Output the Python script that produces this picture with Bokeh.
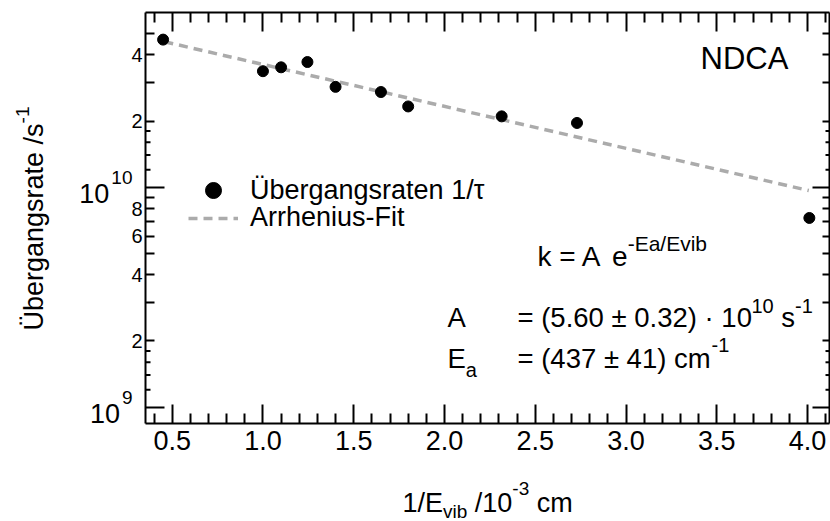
import math
from bokeh.plotting import figure
from bokeh.models import (Range1d, LinearAxis, LogAxis, FixedTicker, Label, LabelSet,
                          ColumnDataSource, Legend, LegendItem, PrintfTickFormatter)
from bokeh.core.properties import value
from bokeh.embed import file_html
from bokeh.resources import INLINE

# ---------------- data ----------------
rate_x = [0.45, 1.00, 1.10, 1.245, 1.40, 1.65, 1.80, 2.315, 2.73, 4.01]
rate_y = [4.69e10, 3.37e10, 3.51e10, 3.71e10, 2.86e10, 2.71e10, 2.33e10, 2.10e10, 1.96e10, 7.25e9]
fit_x = [0.457, 4.007]
fit_y = [4.59e10, 9.66e9]

x_major = [0.5, 1.0, 1.5, 2.0, 2.5, 3.0, 3.5, 4.0]
x_minor = [0.4, 0.6, 0.7, 0.8, 0.9, 1.1, 1.2, 1.3, 1.4, 1.6, 1.7, 1.8, 1.9,
           2.1, 2.2, 2.3, 2.4, 2.6, 2.7, 2.8, 2.9, 3.1, 3.2, 3.3, 3.4,
           3.6, 3.7, 3.8, 3.9, 4.1]
y_decades = [1e9, 1e10]
y_decade_sup = ["9", "10"]
y_minor = [2e9, 3e9, 4e9, 5e9, 6e9, 7e9, 8e9, 9e9, 2e10, 3e10, 4e10, 5e10]
y_sub = [1.2e9, 1.4e9, 1.6e9, 1.8e9, 1.2e10, 1.4e10, 1.6e10, 1.8e10]
y_label_vals = [2e9, 4e9, 6e9, 8e9, 2e10, 4e10]
y_label_text = ["2", "4", "6", "8", "2", "4"]

FONT = "Liberation Sans"
MID = 0.3465   # em-box middle above the alphabetic baseline (Arial metrics)

# plot box (page pixels) and its data window
PW, PH = 830, 521
FL, FT, FR, FB = 145, 12, 829, 423
X0, X1 = 0.353, 4.121
Y0, Y1 = 8.43e8, 6.23e10

# the Bokeh frame covers the whole canvas; axes are pinned to the plot box
sx = (FR - FL) / (X1 - X0)
dec = (FB - FT) / (math.log10(Y1) - math.log10(Y0))
xr = Range1d(X0 - FL / sx, X1 + (PW - FR) / sx)
yr_ = Range1d(10 ** (math.log10(Y0) - (PH - FB) / dec), 10 ** (math.log10(Y1) + FT / dec))

p = figure(width=PW, height=PH, x_range=xr, y_range=yr_, y_axis_type="log",
           output_backend="svg", toolbar_location=None,
           x_axis_location=None, y_axis_location=None,
           min_border=0, min_border_left=0, min_border_right=0, min_border_top=0,
           min_border_bottom=0)
p.outline_line_color = None
p.background_fill_color = "white"
p.border_fill_color = "white"
for g in p.grid:
    g.visible = False


def style_axis(ax, major_in, minor_in, ticks, show_labels):
    ax.axis_line_width = 2
    ax.axis_line_color = "black"
    ax.major_tick_in = major_in
    ax.major_tick_out = 0
    ax.minor_tick_in = minor_in
    ax.minor_tick_out = 0
    ax.major_tick_line_width = 2
    ax.minor_tick_line_width = 2
    ax.major_tick_line_color = "black"
    ax.minor_tick_line_color = "black"
    if show_labels:
        ax.major_label_text_font = FONT
        ax.major_label_text_font_size = "27px"
        ax.major_label_text_color = "black"
        ax.major_label_standoff = 7
    else:
        ax.major_label_overrides = {t: "" for t in ticks}
        ax.major_label_text_font_size = "1px"
        ax.major_label_standoff = 0


xb = LinearAxis(ticker=FixedTicker(ticks=x_major, minor_ticks=x_minor),
                formatter=PrintfTickFormatter(format="%.1f"), fixed_location=Y0, bounds=(X0, X1))
style_axis(xb, 19, 10, x_major, True)
xt = LinearAxis(ticker=FixedTicker(ticks=x_major, minor_ticks=x_minor),
                fixed_location=Y1, bounds=(X0, X1))
style_axis(xt, 19, 10, x_major, False)
yl = LogAxis(ticker=FixedTicker(ticks=y_decades, minor_ticks=y_minor),
             fixed_location=X0, bounds=(Y0, Y1))
style_axis(yl, 19, 9, y_decades, False)
yr = LogAxis(ticker=FixedTicker(ticks=y_decades, minor_ticks=y_minor),
             fixed_location=X1, bounds=(Y0, Y1))
style_axis(yr, 17, 7, y_decades, False)
p.add_layout(xb, "below")
p.add_layout(xt, "above")
p.add_layout(yl, "left")
p.add_layout(yr, "right")

# short sub-ticks (1.2 ... 1.8 of each decade) on left and right axes
p.segment(x0=[X0] * len(y_sub), y0=y_sub, x1=[X0 + 5 / sx] * len(y_sub), y1=y_sub,
          line_color="black", line_width=2)
p.segment(x0=[X1] * len(y_sub), y0=y_sub, x1=[X1 - 4 / sx] * len(y_sub), y1=y_sub,
          line_color="black", line_width=2)

# data
ln = p.line(fit_x, fit_y, line_color="#ababab", line_width=3.5, line_dash="9 6")
sc = p.scatter(rate_x, rate_y, size=11, fill_color="black", line_color="black")

leg_common = dict(glyph_width=50, label_standoff=12, padding=0, margin=0, spacing=0,
                  border_line_color=None, background_fill_color=None,
                  label_text_font=FONT, label_text_font_size="27px", label_text_color="black")
leg1 = Legend(items=[LegendItem(label="Übergangsraten 1/τ", renderers=[sc])],
              location=(188, PH - 210), glyph_height=40, label_height=40, **leg_common)
leg2 = Legend(items=[LegendItem(label="Arrhenius-Fit", renderers=[ln])],
              location=(188, PH - 233), glyph_height=26, label_height=26, **leg_common)
p.add_layout(leg1)
p.add_layout(leg2)

# y tick labels
src = ColumnDataSource(dict(y=y_label_vals, t=y_label_text))
p.add_layout(LabelSet(x=FL - 3, y="y", text="t", source=src, x_units="screen", y_units="data",
                      text_align="right", text_baseline="middle",
                      text_font=value(FONT), text_font_size=value("20px"),
                      text_color=value("black")))
for dv, sup in zip(y_decades, y_decade_sup):
    # superscript: baseline 3.5 px above the tick
    p.add_layout(Label(x=FL - 13, y=dv, x_units="screen", y_units="data", text=sup,
                       text_align="right", text_baseline="middle", y_offset=3.5 + MID * 19,
                       text_font=FONT, text_font_size="19px", text_color="black"))
    sup_w = 0.556 * 19 * len(sup)
    # "10": baseline 16 px below the tick
    p.add_layout(Label(x=FL - 13 - sup_w - 2, y=dv, x_units="screen", y_units="data", text="10",
                       text_align="right", text_baseline="middle", y_offset=-16 + MID * 27,
                       text_font=FONT, text_font_size="27px", text_color="black"))

# width helper (Arial / Liberation Sans advance widths, 1/1000 em)
W = {' ': 278, '(': 333, ')': 333, '-': 333, '.': 278, '/': 278, '=': 584, '±': 584,
     '·': 278, 'A': 667, 'C': 722, 'D': 722, 'E': 667, 'N': 722, 'a': 556, 'b': 556,
     'c': 500, 'e': 556, 'g': 556, 'i': 222, 'k': 500, 'm': 833, 'n': 556, 'r': 333,
     's': 500, 't': 278, 'v': 500, 'Ü': 722}


def tw(s, size):
    return sum(W.get(ch, 556) for ch in s) * size / 1000.0


def txt(s, px, py, size, angle=0.0):
    """Text with its left end at px and its alphabetic baseline at py (page pixels)."""
    lead = len(s) - len(s.lstrip(" "))
    s2 = s.lstrip(" ")
    if angle == 0.0:
        x = px + tw(" " * lead, size)
        y = PH - (py - MID * size)
    else:  # rotated 90 deg: px is the baseline, py the start
        x = px - MID * size
        y = PH - (py - tw(" " * lead, size))
    p.add_layout(Label(x=x, y=y, x_units="screen", y_units="screen", text=s2,
                       text_align="left", text_baseline="middle", angle=angle,
                       text_font=FONT, text_font_size=f"{size}px", text_color="black"))


def chain(parts, px, py):
    """parts: (text, size, baseline shift) pieces written one after another;
    (None, gap, 0) inserts an extra horizontal gap in pixels."""
    x = px
    for s, size, dy in parts:
        if s is None:
            x += size
            continue
        txt(s, x, py + dy, size)
        x += tw(s, size)


txt("NDCA", 700, 69, 31)
chain([("k = A", 28, 0), (None, 10, 0), ("e", 28, 0), ("-Ea/Evib", 21, -16)], 537, 266)
txt("A", 447, 327, 27.5)
chain([("= (5.60 ± 0.32) · 10", 27.5, 0), ("10", 20, -15), (" s", 27.5, 0),
       ("-1", 20, -15)], 517, 327)
chain([("E", 27.5, 0), ("a", 20, 8)], 447, 368)
chain([("= (437 ± 41) cm", 27.5, 0), ("-1", 20, -17)], 517, 368)

# x-axis title
chain([("1/E", 27, 0), ("vib", 19, 6), (" /10", 27, 0), ("-3", 19, -17), (" cm", 27, 0)], 402, 512)

# y-axis title (rotated, reads bottom to top)
main_t = "Übergangsrate /s"
txt(main_t, 43, 330, 27, angle=math.pi / 2)
txt("-1", 29, 330 - tw(main_t, 27), 19, angle=math.pi / 2)

open("out.html", "w").write(file_html(p, INLINE))
